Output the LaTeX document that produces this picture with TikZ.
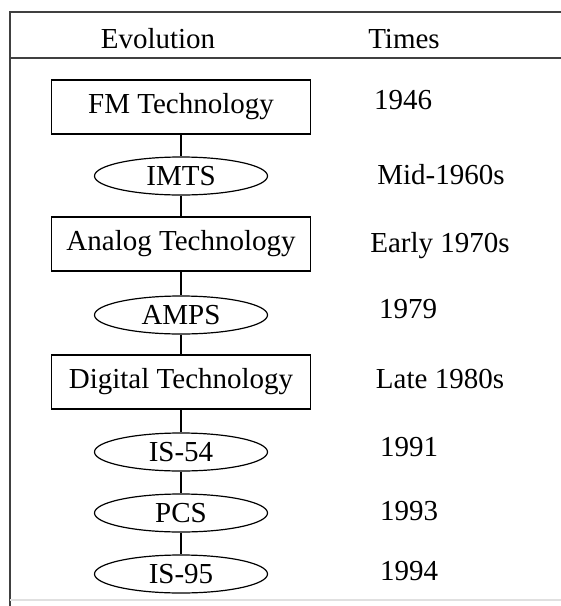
\documentclass[tikz,border=0pt]{standalone}
\usepackage{fontspec}
\setmainfont{Liberation Serif}
\usetikzlibrary{shapes.geometric}
\begin{document}
\begin{tikzpicture}[x=0.5pt,y=-0.5pt,
  every node/.style={font=\fontsize{14.5}{17}\selectfont, inner sep=0pt},
  techbox/.style={draw, line width=0.7pt, minimum width=129.5pt, minimum height=27pt},
  stdoval/.style={draw, ellipse, line width=0.6pt, minimum width=86.5pt, minimum height=19pt},
  link/.style={line width=0.6pt},
  frame/.style={line width=1pt, draw=black!75}]
\useasboundingbox (0,0) rectangle (561,606);

% table frame and header rule
\draw[frame] (10,606) -- (10,12) -- (561,12);
\draw[frame] (10,58) -- (561,58);
\draw[black!12, line width=0.6pt] (10,600) -- (561,600);

% column headings
\node (hevo) at (158,39) {Evolution};
\node (htime) at (404,39) {Times};

% evolution chain
\node[techbox] (fm) at (181,107) {FM Technology};
\node[stdoval] (imts) at (181,176) {IMTS};
\node[techbox] (analog) at (181,244) {Analog Technology};
\node[stdoval] (amps) at (181,315) {AMPS};
\node[techbox] (digital) at (181,382) {Digital Technology};
\node[stdoval] (is54) at (181,452) {IS-54};
\node[stdoval] (pcs) at (181,513) {PCS};
\node[stdoval] (is95) at (181,574) {IS-95};

\draw[link] (fm) -- (imts) -- (analog) -- (amps) -- (digital) -- (is54) -- (pcs) -- (is95);

% dates
\node (t1) at (403,100) {1946};
\node (t2) at (441,175) {Mid-1960s};
\node (t3) at (440,246) {Early 1970s};
\node (t4) at (408,309) {1979};
\node (t5) at (440,379) {Late 1980s};
\node (t6) at (409,447) {1991};
\node (t7) at (409,511) {1993};
\node (t8) at (409,571) {1994};
\end{tikzpicture}
\end{document}
